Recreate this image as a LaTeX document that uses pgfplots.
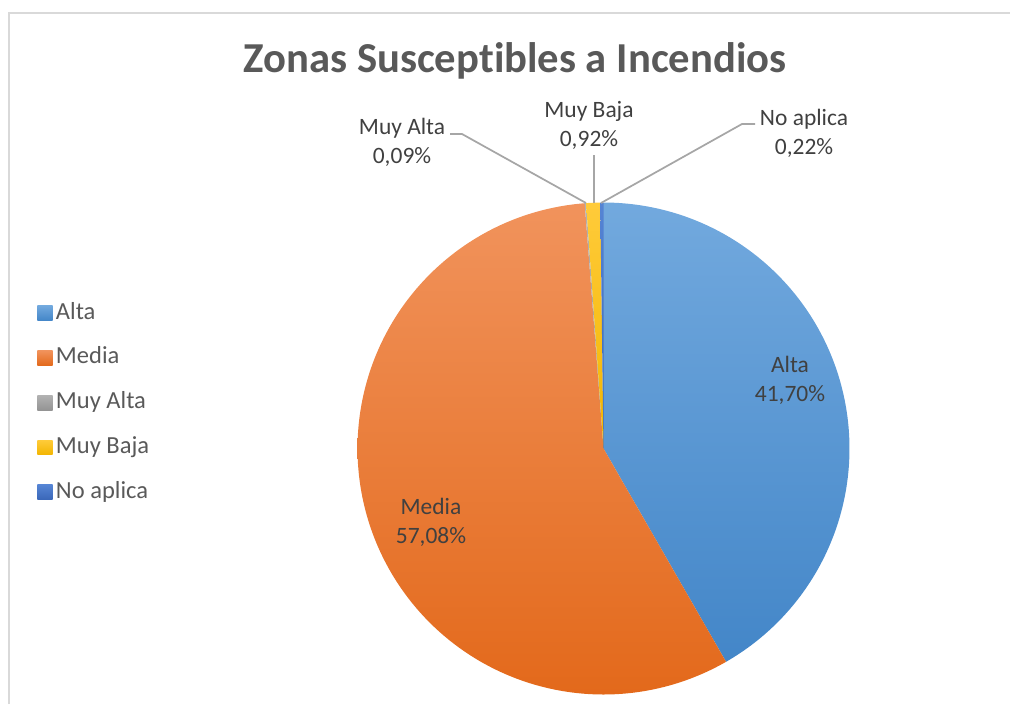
\documentclass[border=0pt]{standalone}
\usepackage{pgfplots}
\pgfplotsset{compat=1.18}
\usepackage{fontspec}
\setmainfont[Ligatures=NoCommon]{Carlito}
\definecolor{altaT}{HTML}{72A9DE}
\definecolor{altaB}{HTML}{4386C8}
\definecolor{mediaT}{HTML}{F1935C}
\definecolor{mediaB}{HTML}{E3691B}
\definecolor{malT}{HTML}{B2B2B2}
\definecolor{malB}{HTML}{949494}
\definecolor{mbaT}{HTML}{FFCB3A}
\definecolor{mbaB}{HTML}{F2B500}
\definecolor{noT}{HTML}{5584D4}
\definecolor{noB}{HTML}{3A66B8}
\definecolor{titlec}{HTML}{595959}
\definecolor{labc}{HTML}{404040}
\definecolor{legc}{HTML}{595959}
\definecolor{leadc}{HTML}{A6A6A6}
\definecolor{framec}{HTML}{D9D9D9}
% data (percent)
\def\vAlta{41.70}
\def\vMedia{57.08}
\def\vMuyAlta{0.09}
\def\vMuyBaja{0.92}
\def\vNoAplica{0.22}
\pgfmathsetmacro\aA{90}
\pgfmathsetmacro\aB{\aA-3.6*\vAlta}
\pgfmathsetmacro\aC{\aB-3.6*\vMedia}
\pgfmathsetmacro\aD{\aC-3.6*\vMuyAlta}
\pgfmathsetmacro\aE{\aD-3.6*\vMuyBaja}
\pgfmathsetmacro\aF{\aE-3.6*\vNoAplica}
\def\cx{603.5}
\def\cy{448.5}
\def\rr{246}
\begin{document}
\begin{tikzpicture}
\begin{axis}[
  x=0.75pt, y=0.75pt,
  xmin=0, xmax=1010, ymin=0, ymax=704,
  y dir=reverse,
  hide axis, clip=false,
  legend cell align=left,
  legend style={draw=none, fill=none, at={(axis cs:37,299.5)}, anchor=north west,
    font=\fontsize{18.4}{20}\selectfont, text=legc,
    row sep=13.6pt, inner sep=0pt,
    nodes={inner sep=2.5pt, text depth=3pt, text height=12pt}},
  legend image code/.code={\path[#1] (0pt,-5.6pt) rectangle (11.5pt,5.6pt);},
]
\addplot[draw=none, top color=altaT, bottom color=altaB, domain=\aB:\aA, samples=150, variable=\t]
  ({\cx+\rr*cos(t)},{\cy-\rr*sin(t)}) -- (axis cs:\cx,\cy) -- cycle;
\addlegendentry{Alta}
\addplot[draw=none, top color=mediaT, bottom color=mediaB, domain=\aC:\aB, samples=200, variable=\t]
  ({\cx+\rr*cos(t)},{\cy-\rr*sin(t)}) -- (axis cs:\cx,\cy) -- cycle;
\addlegendentry{Media}
\addplot[draw=none, top color=malT, bottom color=malB, domain=\aD:\aC, samples=5, variable=\t]
  ({\cx+\rr*cos(t)},{\cy-\rr*sin(t)}) -- (axis cs:\cx,\cy) -- cycle;
\addlegendentry{Muy Alta}
\addplot[draw=none, top color=mbaT, bottom color=mbaB, domain=\aE:\aD, samples=10, variable=\t]
  ({\cx+\rr*cos(t)},{\cy-\rr*sin(t)}) -- (axis cs:\cx,\cy) -- cycle;
\addlegendentry{Muy Baja}
\addplot[draw=none, top color=noT, bottom color=noB, domain=\aF:\aE, samples=5, variable=\t]
  ({\cx+\rr*cos(t)},{\cy-\rr*sin(t)}) -- (axis cs:\cx,\cy) -- cycle;
\addlegendentry{No aplica}
% leader lines
\addplot[forget plot, leadc, line width=1.3pt] coordinates {(450,134) (462,134) (586,203)};
\addplot[forget plot, leadc, line width=1.3pt] coordinates {(594,155) (594,203)};
\addplot[forget plot, leadc, line width=1.3pt] coordinates {(755,124) (742,124) (601,203)};
% frame
\addplot[forget plot, framec, line width=1.5pt] coordinates {(9,704) (9,13) (1010,13)};
% texts
\node[text=titlec, font=\bfseries\fontsize{32}{38}\selectfont] at (axis cs:515,61) {Zonas Susceptibles a Incendios};
\tikzset{lab/.style={text=labc, font=\fontsize{17.6}{21.75}\selectfont, align=center, inner sep=0pt}}
\node[lab] at (axis cs:402,142) {Muy Alta\\0,09\%};
\node[lab] at (axis cs:589,125) {Muy Baja\\0,92\%};
\node[lab] at (axis cs:804,133) {No aplica\\0,22\%};
\node[lab] at (axis cs:790,380) {Alta\\41,70\%};
\node[lab] at (axis cs:431,522) {Media\\57,08\%};
\end{axis}
\pgfresetboundingbox
\path (current axis.south west) rectangle (current axis.north east);
\end{tikzpicture}
\end{document}
